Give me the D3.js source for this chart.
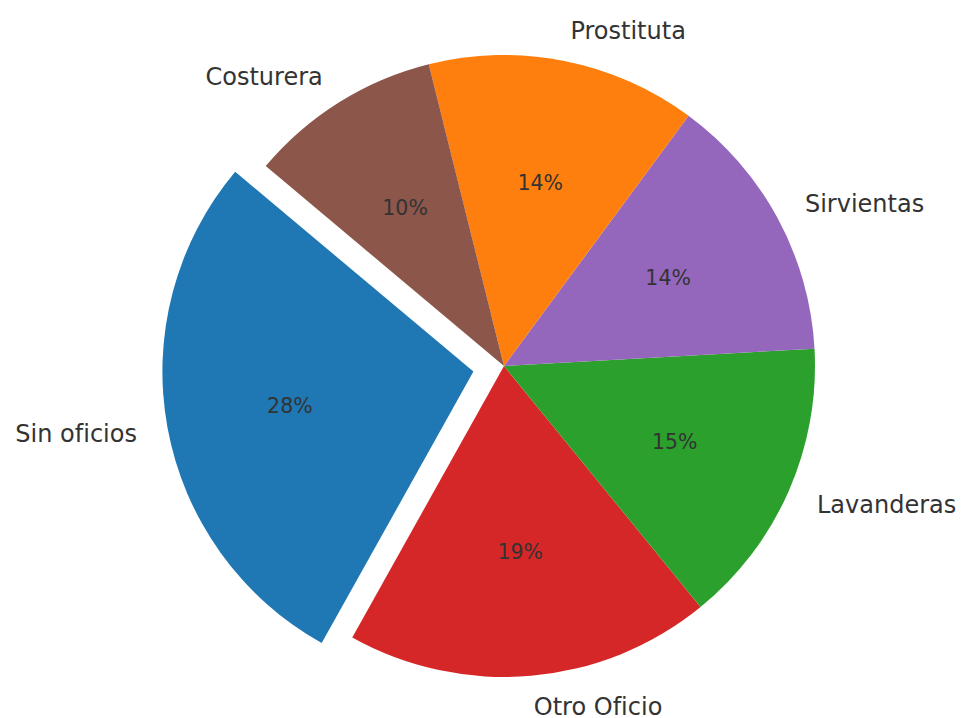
<!DOCTYPE html>
<html lang="es">
<head>
    <meta charset="UTF-8">
    <title>Oficios</title>
    <style>
        body{
            margin: 0;
            background-color: white;
            font-family: "DejaVu Sans", sans-serif;
        }
        .label{
            font-size: 24px;
            fill: #333;
        }
        .pct{
            font-size: 20.5px;
            fill: #333;
        }
    </style>
</head>
<body>
    <div id="pie"></div>
</body>
<script src="https://d3js.org/d3.v7.min.js"></script>
<script>

// data, counterclockwise from the start angle
let categories = ["Sin oficios", "Otro Oficio", "Lavanderas", "Sirvientas", "Prostituta", "Costurera"]
let values = [28, 19, 15, 14, 14, 10]
let colors = ["#1f77b4", "#d62728", "#2ca02c", "#9467bd", "#ff7f0e", "#8c564b"]
let explode = [0.1, 0, 0, 0, 0, 0]

let width = 962,
    height = 718,
    cx = 504,
    cy = 366,
    r = 311

let svg = d3.select("#pie")
    .append("svg")
    .attr("width", width)
    .attr("height", height)
    .append("g")
    .attr("transform", `translate(${cx},${cy})`)

// matplotlib startangle=140, going counterclockwise -> d3 angles (clockwise from north)
let start = (90 - 140) * Math.PI / 180
let pie = d3.pie()
    .sort(null)
    .value(d => d.value)
    .startAngle(start)
    .endAngle(start - 2 * Math.PI)

let data = categories.map((c, i) => ({name: c, value: values[i], color: colors[i], explode: explode[i]}))
let arcs = pie(data)

let arc = d3.arc().innerRadius(0).outerRadius(r)

function polar(a, d){
    return [Math.sin(a) * d, -Math.cos(a) * d]
}

let slice = svg.selectAll(".slice")
    .data(arcs)
    .join("g")
    .attr("class", "slice")
    .attr("transform", d => {
        let mid = (d.startAngle + d.endAngle) / 2
        let p = polar(mid, d.data.explode * r)
        return `translate(${p[0]},${p[1]})`
    })

slice.append("path")
    .attr("d", arc)
    .style("fill", d => d.data.color)

// percentages at 0.6 r
slice.append("text")
    .attr("class", "pct")
    .attr("text-anchor", "middle")
    .attr("dy", "0.36em")
    .attr("x", d => polar((d.startAngle + d.endAngle) / 2, r * 0.6)[0])
    .attr("y", d => polar((d.startAngle + d.endAngle) / 2, r * 0.6)[1])
    .text(d => Math.round(d.value / d3.sum(values) * 100) + "%")

// labels at 1.1 r
slice.append("text")
    .attr("class", "label")
    .attr("dy", "0.36em")
    .attr("text-anchor", d => polar((d.startAngle + d.endAngle) / 2, 1)[0] > 0 ? "start" : "end")
    .attr("x", d => polar((d.startAngle + d.endAngle) / 2, r * 1.1)[0])
    .attr("y", d => polar((d.startAngle + d.endAngle) / 2, r * 1.1)[1])
    .text(d => d.data.name)

</script>
</html>
